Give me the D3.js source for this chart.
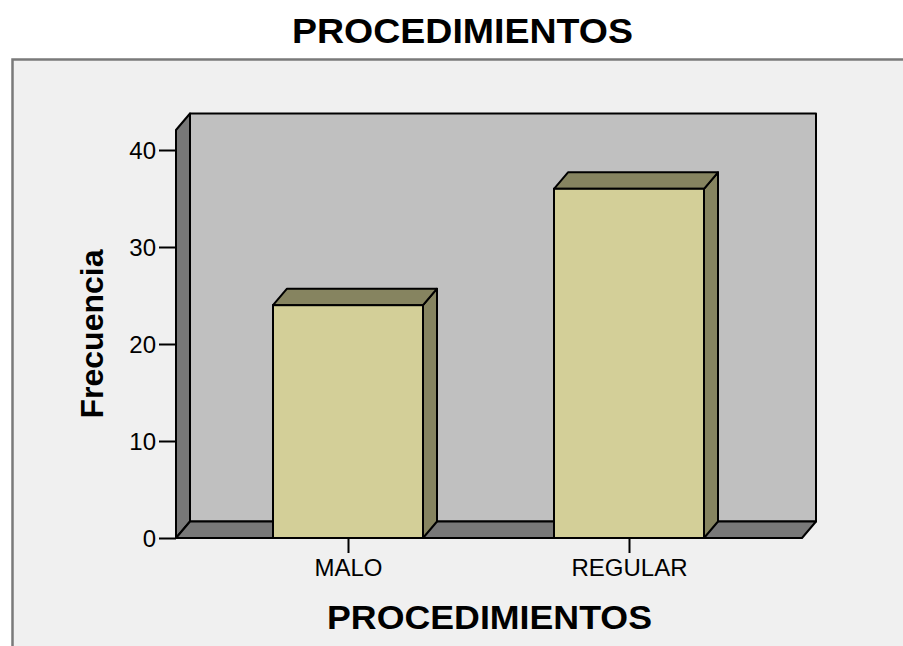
<!DOCTYPE html>
<html>
<head>
<meta charset="utf-8">
<script src="https://cdn.jsdelivr.net/npm/d3@7/dist/d3.min.js"></script>
<style>
  html, body { margin: 0; padding: 0; background: #ffffff; }
  svg { display: block; }
  text { font-family: "Liberation Sans", Arial, sans-serif; }
</style>
</head>
<body>
<svg id="chart" width="903" height="646"></svg>
<script>
// ---- data ----
const categories = ["MALO", "REGULAR"];
const frequencies = [24, 36];
const yTicks = [0, 10, 20, 30, 40];
const chartTitle = "PROCEDIMIENTOS";
const xTitle = "PROCEDIMIENTOS";
const yTitle = "Frecuencia";

// ---- layout ----
const W = 903, H = 646;
const svg = d3.select("#chart");
const dx = 14, dy = 16.5;          // 3D depth offset
const front = { left: 176, right: 802, bottom: 538, top: 130 };

const y = d3.scaleLinear().domain([0, 40]).range([538, 150]);
const x = d3.scalePoint().domain(categories).range([348, 629]);
const barW = 150;

// outer frame
svg.append("rect").attr("x", 0).attr("y", 0).attr("width", W).attr("height", H).attr("fill", "#ffffff");
svg.append("rect").attr("x", 12.5).attr("y", 59.5).attr("width", W + 20).attr("height", H + 20)
  .attr("fill", "#f0f0f0").attr("stroke", "#7a7a7a").attr("stroke-width", 2.5);

// title
svg.append("text").attr("x", 462.5).attr("y", 43).attr("text-anchor", "middle")
  .attr("font-size", 35).attr("font-weight", "bold").attr("fill", "#000")
  .attr("textLength", 341).attr("lengthAdjust", "spacingAndGlyphs")
  .text(chartTitle);

const g = svg.append("g");
const line = d3.line();

// back wall
g.append("path")
  .attr("d", line([[front.left + dx, front.top - dy], [front.right + dx, front.top - dy],
                   [front.right + dx, front.bottom - dy], [front.left + dx, front.bottom - dy]]) + "Z")
  .attr("fill", "#c0c0c0").attr("stroke", "#000").attr("stroke-width", 2).attr("stroke-linejoin", "round");

// left wall
g.append("path")
  .attr("d", line([[front.left, front.top], [front.left + dx, front.top - dy],
                   [front.left + dx, front.bottom - dy], [front.left, front.bottom]]) + "Z")
  .attr("fill", "#787878").attr("stroke", "#000").attr("stroke-width", 2).attr("stroke-linejoin", "round");

// floor
g.append("path")
  .attr("d", line([[front.left, front.bottom], [front.left + dx, front.bottom - dy],
                   [front.right + dx, front.bottom - dy], [front.right, front.bottom]]) + "Z")
  .attr("fill", "#787878").attr("stroke", "#000").attr("stroke-width", 2).attr("stroke-linejoin", "round");

// bars
const data = categories.map((c, i) => ({ cat: c, val: frequencies[i] }));
const bars = g.selectAll("g.bar").data(data).join("g").attr("class", "bar");

bars.append("path") // side
  .attr("d", d => {
    const x1 = x(d.cat) + barW / 2, yt = y(d.val), yb = y(0);
    return line([[x1, yt], [x1 + dx, yt - dy], [x1 + dx, yb - dy], [x1, yb]]) + "Z";
  })
  .attr("fill", "#868460").attr("stroke", "#000").attr("stroke-width", 2).attr("stroke-linejoin", "round");

bars.append("path") // top
  .attr("d", d => {
    const x0 = x(d.cat) - barW / 2, x1 = x(d.cat) + barW / 2, yt = y(d.val);
    return line([[x0, yt], [x0 + dx, yt - dy], [x1 + dx, yt - dy], [x1, yt]]) + "Z";
  })
  .attr("fill", "#868460").attr("stroke", "#000").attr("stroke-width", 2).attr("stroke-linejoin", "round");

bars.append("rect") // front
  .attr("x", d => x(d.cat) - barW / 2).attr("y", d => y(d.val))
  .attr("width", barW).attr("height", d => y(0) - y(d.val))
  .attr("fill", "#d3cf98").attr("stroke", "#000").attr("stroke-width", 2);

// y axis
const yAxis = d3.axisLeft(y).tickValues(yTicks).tickSize(17).tickPadding(3).tickFormat(d3.format("d"));
const ya = svg.append("g").attr("transform", `translate(${front.left},0)`).call(yAxis);
ya.select(".domain").remove();
ya.selectAll(".tick line").attr("stroke", "#000").attr("stroke-width", 2);
ya.selectAll(".tick text").attr("font-size", 24).attr("fill", "#000")
  .attr("font-family", "Liberation Sans, Arial, sans-serif").attr("dy", "0.36em");

// x axis
const xAxis = d3.axisBottom(x).tickSize(15).tickPadding(6);
const xa = svg.append("g").attr("transform", `translate(0,${front.bottom})`).call(xAxis);
xa.select(".domain").remove();
xa.selectAll(".tick line").attr("stroke", "#000").attr("stroke-width", 2);
xa.selectAll(".tick text").attr("font-size", 24).attr("fill", "#000")
  .attr("font-family", "Liberation Sans, Arial, sans-serif");

// axis titles
svg.append("text").attr("x", 489.5).attr("y", 629).attr("text-anchor", "middle")
  .attr("font-size", 34).attr("font-weight", "bold").attr("fill", "#000")
  .attr("textLength", 325).attr("lengthAdjust", "spacingAndGlyphs")
  .text(xTitle);

svg.append("text").attr("transform", "translate(103,334) rotate(-90)").attr("text-anchor", "middle")
  .attr("font-size", 32).attr("font-weight", "bold").attr("fill", "#000")
  .text(yTitle);
</script>
</body>
</html>
